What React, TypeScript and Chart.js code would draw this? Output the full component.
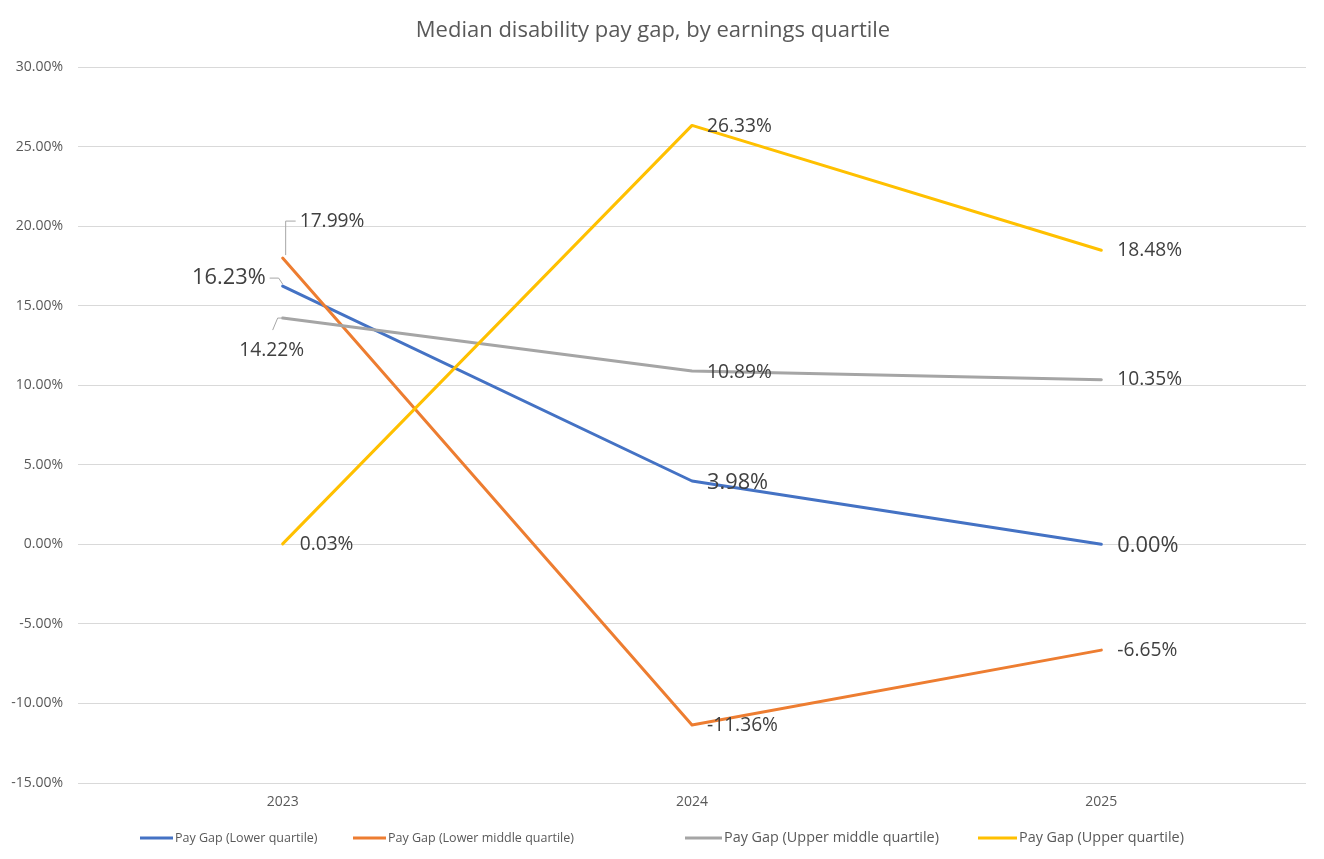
import React, { useEffect, useRef } from "react";
import { Chart, registerables } from "chart.js";

Chart.register(...registerables);

// ---------- data ----------
const years = ["2023", "2024", "2025"];
const lowerQuartile = [16.23, 3.98, 0.0];
const lowerMiddleQuartile = [17.99, -11.36, -6.65];
const upperMiddleQuartile = [14.22, 10.89, 10.35];
const upperQuartile = [0.03, 26.33, 18.48];
const seriesNames = [
  "Pay Gap (Lower quartile)",
  "Pay Gap (Lower middle quartile)",
  "Pay Gap (Upper middle quartile)",
  "Pay Gap (Upper quartile)",
];
const yMin = -15;
const yMax = 30;
const yStep = 5;
const titleText = "Median disability pay gap, by earnings quartile";

// ---------- styles ----------
const FONT = "'Open Sans', 'Noto Sans', sans-serif";
const colors = ["#4472C4", "#ED7D31", "#A5A5A5", "#FFC000"];
const labelColor = "#404040";
const axisColor = "#595959";
const legendItemStarts = [140, 353, 685, 978];
const legendLineWidths = [33, 33, 37, 39];
const legendFontSizes = [12.5, 12.5, 14.4, 14.4];

type Place = { dx?: number; dy?: number; align?: CanvasTextAlign; leader?: number[][] };
const labelStyles: { size: number; place: Place[] }[] = [
  {
    size: 21.8,
    place: [
      { dx: -17, dy: -8, align: "right", leader: [[-13, -8], [-4, -8], [0, -2]] },
      { dx: 15, dy: 2 },
      { dx: 16, dy: 1 },
    ],
  },
  {
    size: 19.2,
    place: [
      { dx: 17, dy: -37, leader: [[3, -3], [3, -37], [13, -37]] },
      { dx: 15, dy: 0 },
      { dx: 16, dy: 0 },
    ],
  },
  {
    size: 19.2,
    place: [
      { dx: -11, dy: 32, align: "center", leader: [[-1, 0], [-5, 0], [-10, 12]] },
      { dx: 15, dy: 1 },
      { dx: 16, dy: 0 },
    ],
  },
  {
    size: 19.2,
    place: [
      { dx: 17, dy: 1 },
      { dx: 15, dy: 1 },
      { dx: 16, dy: 0 },
    ],
  },
];

const dataLabelPlugin = {
  id: "pointValueLabels",
  afterDatasetsDraw(chart: any) {
    const ctx = chart.ctx as CanvasRenderingContext2D;
    ctx.save();
    chart.data.datasets.forEach((ds: any, di: number) => {
      const meta = chart.getDatasetMeta(di);
      const st = labelStyles[di];
      meta.data.forEach((pt: any, i: number) => {
        const v = ds.data[i] as number;
        const p = st.place[i] || {};
        const dx = p.dx ?? 16;
        const dy = p.dy ?? 0;
        if (p.leader) {
          ctx.beginPath();
          ctx.strokeStyle = "#A6A6A6";
          ctx.lineWidth = 1;
          p.leader.forEach((q, k) => {
            if (k === 0) ctx.moveTo(pt.x + q[0], pt.y + q[1]);
            else ctx.lineTo(pt.x + q[0], pt.y + q[1]);
          });
          ctx.stroke();
        }
        ctx.font = `${st.size}px ${FONT}`;
        ctx.fillStyle = labelColor;
        ctx.textAlign = p.align || "left";
        ctx.textBaseline = "middle";
        ctx.fillText(v.toFixed(2) + "%", pt.x + dx, pt.y + dy);
      });
    });
    ctx.restore();
  },
};

const legendPlugin = {
  id: "bottomLegend",
  afterDraw(chart: any) {
    const ctx = chart.ctx as CanvasRenderingContext2D;
    const gapText = 2;
    const y = chart.height - 21;
    ctx.save();
    chart.data.datasets.forEach((ds: any, i: number) => {
      let x = legendItemStarts[i];
      ctx.fillStyle = ds.borderColor;
      ctx.fillRect(x, y - 1.5, legendLineWidths[i], 3);
      x += legendLineWidths[i] + gapText;
      ctx.font = `${legendFontSizes[i]}px ${FONT}`;
      ctx.fillStyle = axisColor;
      ctx.textAlign = "left";
      ctx.textBaseline = "middle";
      ctx.fillText(ds.label, x, y);
    });
    ctx.restore();
  },
};

export default function App() {
  const ref = useRef<HTMLCanvasElement | null>(null);

  useEffect(() => {
    if (!ref.current) return;
    const series = [lowerQuartile, lowerMiddleQuartile, upperMiddleQuartile, upperQuartile];
    const chart = new Chart(ref.current, {
      type: "line",
      data: {
        labels: years,
        datasets: series.map((d, i) => ({
          label: seriesNames[i],
          data: d,
          borderColor: colors[i],
          backgroundColor: colors[i],
          borderWidth: 3,
          pointRadius: 0,
          pointHoverRadius: 0,
          tension: 0,
          fill: false,
          order: series.length - i,
          borderCapStyle: "round" as const,
          borderJoinStyle: "round" as const,
        })),
      },
      options: {
        responsive: false,
        animation: false,
        layout: { padding: { left: 0, right: 18, top: 0, bottom: 37 } },
        plugins: {
          legend: { display: false },
          tooltip: { enabled: false },
          title: {
            display: true,
            text: titleText,
            color: axisColor,
            font: { family: FONT, size: 22, weight: "normal" },
            padding: { top: 18, bottom: 22.6 },
          },
        },
        scales: {
          x: {
            offset: true,
            grid: { display: false, drawTicks: false },
            border: { display: false },
            ticks: { color: axisColor, font: { family: FONT, size: 14 }, padding: 11 },
            afterFit: (s: any) => {
              s.height = 39;
            },
          },
          y: {
            min: yMin,
            max: yMax,
            grid: { color: "#D9D9D9", lineWidth: 1, drawTicks: false },
            border: { display: false },
            ticks: {
              stepSize: yStep,
              color: axisColor,
              font: { family: FONT, size: 14 },
              padding: 15,
              callback: (v: any) => Number(v).toFixed(2) + "%",
            },
            afterFit: (s: any) => {
              s.width = 78;
            },
          },
        },
      },
      plugins: [dataLabelPlugin, legendPlugin],
    });
    return () => chart.destroy();
  }, []);

  return (
    <div style={{ position: "fixed", left: 0, top: 0, width: 1324, height: 859, background: "#fff" }}>
      <canvas ref={ref} width={1324} height={859} />
    </div>
  );
}
